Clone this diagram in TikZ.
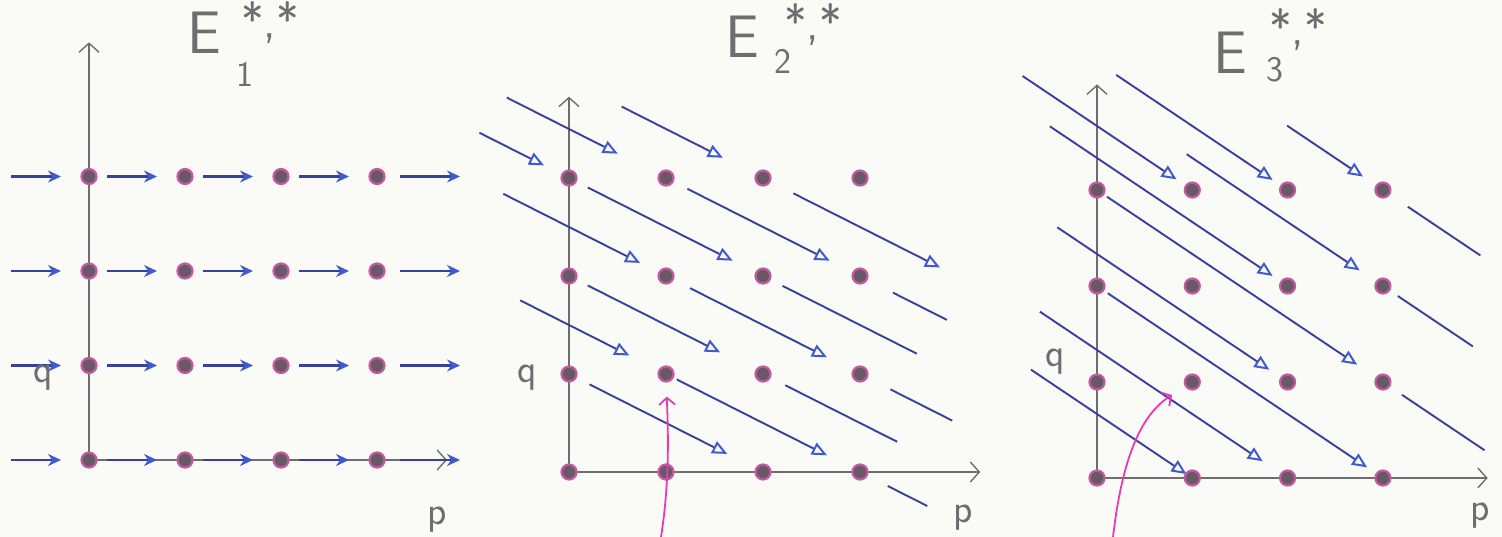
\documentclass[tikz,border=0pt]{standalone}
\usepackage{amsmath,amssymb}
\usepackage{tikz}
\usetikzlibrary{arrows.meta,calc}
\usepackage{xcolor}
\definecolor{pencilgray}{RGB}{110,110,110}
\definecolor{inkblue}{RGB}{55,65,155}
\definecolor{tipblue}{RGB}{65,90,205}
\definecolor{dotrim}{RGB}{195,90,160}
\definecolor{dotcore}{RGB}{105,88,102}
\definecolor{hotpink}{RGB}{228,60,180}
\definecolor{paper}{RGB}{250,250,247}

\begin{document}
\begin{tikzpicture}[x=1pt, y=-1pt,
    dot/.style={circle, draw=dotrim, line width=2.2pt, fill=dotcore, minimum size=15pt, inner sep=0pt},
    axis/.style={pencilgray, line width=1.4pt, -{Straight Barb[length=9pt, width=20pt]}},
    lbl/.style={pencilgray, font=\fontsize{40}{40}\selectfont\sffamily},
    title/.style={pencilgray, font=\fontsize{60}{60}\selectfont\sffamily, anchor=base west, inner sep=0pt},
    sup/.style={pencilgray, font=\fontsize{48}{48}\selectfont\sffamily, inner sep=0pt},
    sub/.style={pencilgray, font=\fontsize{36}{36}\selectfont\sffamily, inner sep=0pt},
    done/.style={inkblue, line width=2.2pt, shorten <=18pt, shorten >=28pt, -{Stealth[length=13pt, width=12pt, color=tipblue]}},
    dtip/.style={-{Triangle[open, length=15pt, width=13pt, line width=2pt, color=tipblue]}},
    dline/.style={inkblue, line width=1.9pt},
    cut/.style 2 args={shorten <=#1, shorten >=#2},
    hook/.style={hotpink, line width=1.8pt, -{Straight Barb[length=7pt, width=16pt]}}]

    \useasboundingbox (0,0) rectangle (1502,537);
    \fill[paper] (0,0) rectangle (1502,537);

    % E_1: horizontal d_1
    \begin{scope}[shift={(89,460)}, x=96pt, y=94.5pt]
        \foreach \p in {-1,...,4}
            \foreach \q in {0,...,3}
                \coordinate (e1-\p-\q) at (\p,\q);
        \draw[axis] (e1-0-0) -- (0,4.42);
        \draw[axis] (e1-0-0) -- (3.73,0);
        \foreach \q in {0,...,3} {
            \foreach \p [evaluate=\p as \n using int(\p+1)] in {-1,...,2}
                \draw[done] (e1-\p-\q) -- (e1-\n-\q);
            \draw[done, cut={23pt}{13pt}] (e1-3-\q) -- (e1-4-\q);
        }
        \foreach \p in {0,...,3}
            \foreach \q in {0,...,3}
                \node[dot] (d1-\p-\q) at (e1-\p-\q) {};
    \end{scope}
    \node[lbl] (q1) at (43,378) {q};
    \node[lbl] (p1) at (437,520) {p};
    \node[title] (t1) at (187,54) {E};
    \node[sup] (s1) at (270,23) {*,*};
    \node[sub] (b1) at (245,74) {1};

    % E_2: d_2 of bidegree (2,-1)
    \begin{scope}[shift={(569,472)}, x=97pt, y=98pt]
        \foreach \p in {-2,...,5}
            \foreach \q in {-1,...,4}
                \coordinate (e2-\p-\q) at (\p,\q);
        \draw[axis] (e2-0-0) -- (0,3.83);
        \draw[axis] (e2-0-0) -- (4.24,0);
        % row 4
        \draw[dline, dtip, cut={117pt}{28pt}] (e2--2-4) -- (e2-0-3);
        \draw[dline, dtip, cut={39pt}{54pt}] (e2--1-4) -- (e2-1-3);
        \draw[dline, dtip, cut={59pt}{45pt}] (e2-0-4) -- (e2-2-3);
        % row 3
        \draw[dline, dtip, cut={35pt}{29pt}] (e2--1-3) -- (e2-1-2);
        \draw[dline, dtip, cut={21pt}{34pt}] (e2-0-3) -- (e2-2-2);
        \draw[dline, dtip, cut={24pt}{34pt}] (e2-1-3) -- (e2-3-2);
        \draw[dline, dtip, cut={34pt}{19pt}] (e2-2-3) -- (e2-4-2);
        % row 2
        \draw[dline, dtip, cut={54pt}{41pt}] (e2--1-2) -- (e2-1-1);
        \draw[dline, dtip, cut={21pt}{48pt}] (e2-0-2) -- (e2-2-1);
        \draw[dline, dtip, cut={27pt}{37pt}] (e2-1-2) -- (e2-3-1);
        \draw[dline, cut={22pt}{45pt}] (e2-2-2) -- (e2-4-1);
        \draw[dline, cut={37pt}{120pt}] (e2-3-2) -- (e2-5-1);
        % row 1
        \draw[dline, dtip, cut={23pt}{40pt}] (e2-0-1) -- (e2-2-0);
        \draw[dline, dtip, cut={12pt}{37pt}] (e2-1-1) -- (e2-3-0);
        \draw[dline, cut={25pt}{67pt}] (e2-2-1) -- (e2-4-0);
        \draw[dline, cut={34pt}{114pt}] (e2-3-1) -- (e2-5-0);
        % row 0
        \draw[dline, cut={31pt}{142pt}] (e2-3-0) -- (e2-5--1);
        \foreach \p in {0,...,3}
            \foreach \q in {0,...,3}
                \node[dot] (d2-\p-\q) at (e2-\p-\q) {};
    \end{scope}
    \node[lbl] (q2) at (527,378) {q};
    \node[lbl] (p2) at (963,518) {p};
    \node[title] (t2) at (725,58) {E};
    \node[sup] (s2) at (813,25) {*,*};
    \node[sub] (b2) at (783,61) {2};

    % E_3: d_3 of bidegree (3,-2)
    \begin{scope}[shift={(1097,478)}, x=95.3pt, y=96pt]
        \foreach \p in {-2,...,6}
            \foreach \q in {-1,...,5}
                \coordinate (e3-\p-\q) at (\p,\q);
        \draw[axis] (e3-0-0) -- (0,4.1);
        \draw[axis] (e3-0-0) -- (4.1,0);
        % into row 3
        \draw[dline, dtip, cut={140pt}{19pt}] (e3--2-5) -- (e3-1-3);
        \draw[dline, dtip, cut={138pt}{18pt}] (e3--1-5) -- (e3-2-3);
        \draw[dline, dtip, cut={229pt}{24pt}] (e3-0-5) -- (e3-3-3);
        % into row 2
        \draw[dline, dtip, cut={58pt}{18pt}] (e3--1-4) -- (e3-2-2);
        \draw[dline, dtip, cut={108pt}{28pt}] (e3-0-4) -- (e3-3-2);
        \draw[dline, cut={30pt}{227pt}] (e3-3-3) -- (e3-6-1);
        % into row 1
        \draw[dline, dtip, cut={67pt}{22pt}] (e3--1-3) -- (e3-2-1);
        \draw[dline, dtip, cut={12pt}{31pt}] (e3-0-3) -- (e3-3-1);
        \draw[dline, cut={18pt}{236pt}] (e3-3-2) -- (e3-6-0);
        % into row 0
        \draw[dline, dtip, cut={150pt}{7pt}] (e3--2-2) -- (e3-1-0);
        \draw[dline, dtip, cut={46pt}{30pt}] (e3--1-2) -- (e3-2-0);
        \draw[dline, dtip, cut={13pt}{19pt}] (e3-0-2) -- (e3-3-0);
        \draw[dline, cut={23pt}{222pt}] (e3-3-1) -- (e3-6--1);
        \foreach \p in {0,...,3}
            \foreach \q in {0,...,3}
                \node[dot] (d3-\p-\q) at (e3-\p-\q) {};
    \end{scope}
    \node[lbl] (q3) at (1055,362) {q};
    \node[lbl] (p3) at (1480,516) {p};
    \node[title] (t3) at (1213,74) {E};
    \node[sup] (s3) at (1298,30) {*,*};
    \node[sub] (b3) at (1275,70) {3};

    % pink pointers
    \coordinate (m2) at (661,537);
    \coordinate (m3) at (1113,537);
    \coordinate (k3) at (1172,395);
    \draw[hook, shorten >=14pt] (m2) .. controls (670,480) and (668,430) .. (d2-1-1);
    \draw[hook] (m3) .. controls (1122,460) and (1140,415) .. (k3);
\end{tikzpicture}
\end{document}
